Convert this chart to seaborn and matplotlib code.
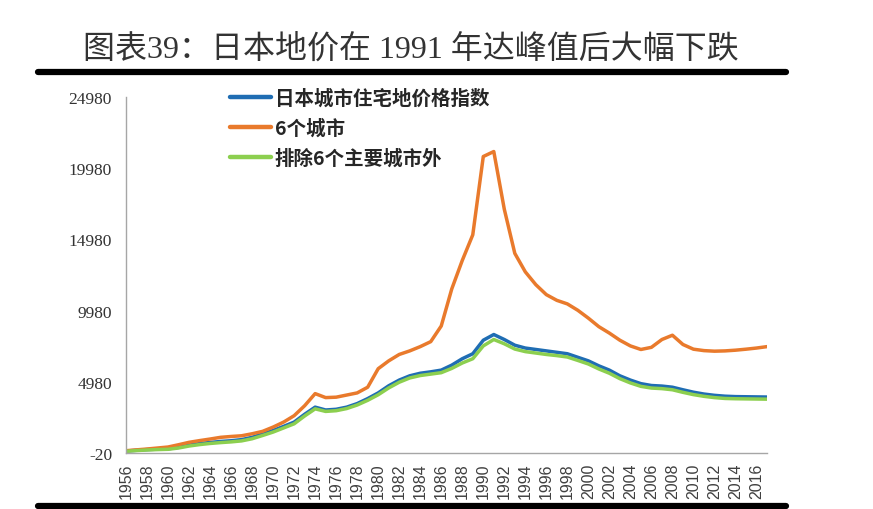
import matplotlib
matplotlib.use("Agg")
import matplotlib.pyplot as plt
import seaborn as sns
import pandas as pd
import numpy as np
from matplotlib.lines import Line2D

years = list(range(1956, 2018))

total_index = [120, 170, 220, 250, 270, 380, 530, 640, 720, 790,
               840, 920, 1080, 1320, 1560, 1850, 2150, 2700, 3200, 3000,
               3050, 3200, 3450, 3800, 4200, 4700, 5100, 5400, 5580, 5680,
               5800, 6150, 6600, 6950, 7900, 8300, 7950, 7550, 7350, 7250,
               7150, 7050, 6950, 6700, 6450, 6100, 5800, 5400, 5100, 4850,
               4720, 4680, 4600, 4420, 4250, 4120, 4030, 3970, 3940, 3930,
               3920, 3910]

six_cities = [140, 200, 260, 330, 400, 560, 730, 850, 960, 1080,
              1140, 1190, 1330, 1500, 1800, 2150, 2600, 3300, 4150, 3870,
              3900, 4050, 4200, 4600, 5900, 6450, 6900, 7150, 7450, 7800,
              8900, 11500, 13500, 15300, 20800, 21150, 17100, 14000, 12700, 11800,
              11100, 10700, 10450, 10000, 9450, 8850, 8400, 7900, 7500, 7250,
              7400, 7950, 8250, 7600, 7270, 7170, 7130, 7150, 7200, 7270,
              7350, 7450]

excl_six = [100, 150, 190, 220, 240, 330, 470, 570, 650, 710,
            760, 830, 980, 1210, 1450, 1740, 2030, 2580, 3080, 2900,
            2950, 3100, 3350, 3680, 4070, 4550, 4950, 5250, 5420, 5520,
            5620, 5920, 6300, 6600, 7500, 7950, 7650, 7280, 7100, 7000,
            6900, 6820, 6720, 6480, 6230, 5880, 5580, 5200, 4900, 4660,
            4540, 4500, 4420, 4240, 4080, 3960, 3870, 3810, 3790, 3780,
            3770, 3760]

series_names = ["日本城市住宅地价格指数", "6个城市", "排除6个主要城市外"]
y_ticks = [-20, 4980, 9980, 14980, 19980, 24980]
x_ticks = list(range(1956, 2017, 2))
title = "图表39：日本地价在 1991 年达峰值后大幅下跌"

df = pd.DataFrame({
    "year": years * 3,
    "value": total_index + six_cities + excl_six,
    "series": [series_names[0]] * len(years) + [series_names[1]] * len(years) + [series_names[2]] * len(years),
})

sns.set_style("white")
plt.rcParams["font.family"] = ["Noto Sans CJK SC", "DejaVu Sans"]

colors = ["#1F6DB3", "#E97A2C", "#8CCF4F"]
palette = dict(zip(series_names, colors))

fig = plt.figure(figsize=(8.73, 5.10), dpi=100)
ax = fig.add_axes([126 / 873, 1 - 454 / 510, (767 - 126) / 873, (454 - 98) / 510])

sns.lineplot(data=df, x="year", y="value", hue="series", hue_order=series_names,
             palette=palette, linewidth=2.5, ax=ax, legend=False)

ax.set_xlim(1956, 2017)
ax.set_ylim(-20, 24980)
ax.set_yticks(y_ticks)
ax.set_yticklabels([str(v) for v in y_ticks], family=["Liberation Serif"], fontsize=12.5, color="#333333")
ax.set_xticks(x_ticks + [2017])
ax.set_xticklabels([str(v) for v in x_ticks] + [""], rotation=90, family=["Liberation Sans"],
                   fontsize=11.5, color="#404040")
ax.set_xlabel("")
ax.set_ylabel("")
for s in ["top", "right"]:
    ax.spines[s].set_visible(False)
for s in ["left", "bottom"]:
    ax.spines[s].set_color("#A6A6A6")
    ax.spines[s].set_linewidth(1.0)
ax.tick_params(axis="both", direction="out", length=4, color="#A6A6A6", width=1.0)
ax.tick_params(axis="y", pad=6)
ax.tick_params(axis="x", pad=3)

handles = [Line2D([0], [0], color=c, lw=3.2) for c in colors]
fig.legend(handles, series_names, loc="upper left", bbox_to_anchor=(230 / 873, 1 - 89 / 510),
           frameon=False, prop={"family": ["Noto Sans CJK SC"], "weight": "bold", "size": 14},
           handlelength=2.1, handletextpad=0.2, labelspacing=0.55, borderpad=0, borderaxespad=0)

fig.text(83 / 873, 1 - 50 / 510, title, ha="left", va="center", fontsize=23,
         family=["Liberation Serif", "Noto Sans CJK SC"], color="#333333", fontweight="light")

fig.add_artist(Line2D([38 / 873, 786 / 873], [1 - 73 / 510, 1 - 73 / 510], color="black", lw=4.5))
fig.add_artist(Line2D([38 / 873, 786 / 873], [1 - 507 / 510, 1 - 507 / 510], color="black", lw=4.5))

fig.savefig("out.png", dpi=100, facecolor="white")
